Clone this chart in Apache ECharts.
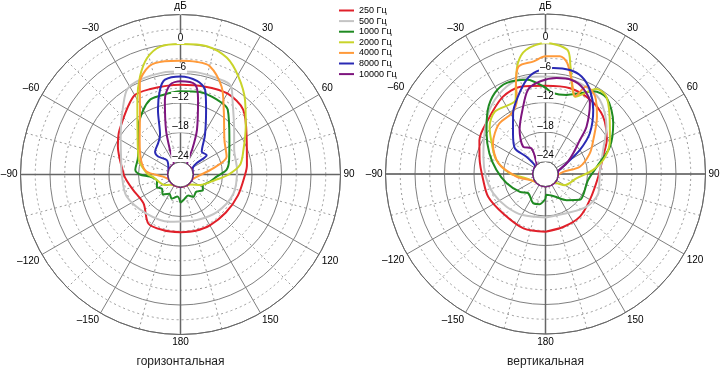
<!DOCTYPE html>
<html><head><meta charset="utf-8">
<script src="https://cdn.jsdelivr.net/npm/echarts@6/dist/echarts.min.js"></script>
<style>html,body{margin:0;padding:0;background:#fff}#c{width:720px;height:371px}</style>
</head><body><div id="c"></div>
<script>
// series names and colours
const NAMES = ['250 Гц','500 Гц','1000 Гц','2000 Гц','4000 Гц','8000 Гц','10000 Гц'];
const COLORS = ['#e0202a','#c4c4c4','#1f8a22','#c9d42a','#ff9a3a','#2a2ab4','#7e157e'];
const CHART_TITLES = ['горизонтальная','вертикальная'];
// radial ticks (dB) and angular ticks (deg)
const R_MIN = -24, R_MAX = 6, R_STEP = 6;
const A_STEP = 30;

// [angle deg, level dB] — horizontal plane
const H250 = [[-180,-14.8],[-163,-14.7],[-147,-14.6],[-128,-17.0],[-108,-16.4],[-96,-15.5],[-90,-15.0],[-66,-12.6],[-54,-11.2],[-31,-8.0],[-20,-8.1],[0,-8.3],[15,-8.0],[30,-7.5],[44,-8.2],[62,-11.3],[82,-12.9],[90,-13.4],[110,-14.1],[130,-14.5],[150,-14.6],[165,-14.7],[180,-14.8]];
const H500 = [[-180,-17.0],[-167,-16.7],[-139,-16.0],[-112,-14.7],[-90,-14.6],[-76,-14.1],[-60,-12.5],[-50,-10.75],[-40,-8.4],[-32,-6.1],[-23,-5.6],[-10,-5.5],[0,-5.6],[10,-5.5],[20,-5.6],[28,-5.6],[31,-6.3],[35,-8.1],[50,-12.3],[65,-14.5],[85,-15.0],[110,-15.1],[136,-15.9],[160,-16.7],[180,-17.0]];
const H1000 = [[-180,-20.8],[-172,-22.0],[-160,-21.3],[-150,-22.0],[-138,-21.1],[-128,-21.8],[-118,-21.1],[-105,-21.6],[-94,-20.3],[-90,-18.3],[-84,-17.3],[-70,-17.3],[-60,-16.6],[-41,-13.5],[-30,-11.4],[-22,-10.1],[-16,-10.0],[0,-9.6],[13,-9.3],[26,-9.6],[36,-10.2],[55,-14.4],[73,-16.2],[84,-17.1],[93,-19.1],[105,-20.5],[116,-21.5],[125,-21.0],[138,-21.8],[150,-21.3],[160,-22.0],[172,-21.4],[180,-20.8]];
const H2000 = [[-180,-24],[-150,-24],[-135,-23.6],[-124,-22.7],[-95,-20.9],[-88,-19.7],[-71,-17.6],[-46,-14.4],[-30,-9.0],[-22.5,-5.0],[-16,-1.9],[-9,-0.2],[0,0],[11.6,0.1],[21.7,-1.0],[30.6,-3.4],[40.9,-6.5],[53.8,-10.1],[68.7,-12.8],[81,-14.3],[90.6,-16.9],[99,-19.4],[118,-22.0],[135,-23.7],[150,-24],[180,-24]];
const H4000 = [[-180,-24],[-150,-24],[-115,-24],[-97,-23.0],[-85,-19.6],[-70,-18.0],[-50,-15.7],[-32,-11.0],[-24,-6.2],[-16,-3.6],[-8,-3.3],[0,-3.4],[8,-3.4],[15,-3.7],[25,-6.8],[34,-10.8],[52,-15.2],[69,-16.5],[79,-19.7],[98,-23.2],[115,-24],[150,-24],[180,-24]];
const H8000 = [[-180,-24],[-120,-24],[-75,-24],[-57,-23.6],[-43.6,-22.5],[-51.3,-20.7],[-48.2,-19.6],[-35.4,-18.7],[-27.4,-17.5],[-19.2,-12.6],[-13.6,-8.8],[-9.3,-7.0],[0,-6.6],[10,-7.2],[16.2,-8.6],[21.6,-12.4],[31.8,-17.1],[42.9,-20.2],[53.3,-19.9],[55,-22.5],[60,-23.6],[75,-24],[120,-24],[180,-24]];
const H10000 = [[-180,-24],[-150,-24],[-120,-24],[-90,-24],[-60,-24],[-40,-24],[-32,-24],[-27,-23.2],[-23.2,-21.1],[-18,-17.0],[-11.8,-11.0],[-6.7,-8.2],[0,-7.6],[9.2,-8.0],[13.2,-10.9],[20.3,-16.9],[25.1,-21.0],[27.4,-23.2],[32,-24],[60,-24],[90,-24],[120,-24],[150,-24],[180,-24]];

// [angle deg, level dB] — vertical plane
const V250 = [[-180,-14.8],[-158,-14.6],[-133,-14.75],[-112,-14.0],[-95,-13.8],[-78,-12.85],[-63,-11.45],[-47,-10.5],[-29,-8.6],[-16,-8.1],[0,-8.6],[16,-8.4],[31,-8.9],[45,-10.0],[61,-12.3],[73,-14.3],[93,-15.8],[120,-16.1],[141,-15.4],[161,-15.2],[180,-14.8]];
const V500 = [[-180,-17.7],[-151,-17.0],[-130,-16.2],[-110,-15.2],[-93,-14.4],[-74,-13.4],[-56,-11.6],[-41,-9.2],[-27,-7.4],[-15,-6.5],[-3,-6.7],[9,-6.6],[21,-6.8],[36,-7.8],[52,-10.8],[67,-13.8],[89,-15.5],[110,-15.1],[129,-15.9],[152,-17.5],[180,-17.7]];
const V1000 = [[-180,-21.5],[-169,-20.3],[-157,-20.1],[-138,-21.3],[-125,-20.2],[-103,-18.4],[-85,-16.5],[-70,-14.4],[-55,-11.9],[-42,-9.0],[-32,-7.1],[-23,-6.4],[-11,-7.0],[0,-9.0],[5,-10.0],[15,-9.9],[23,-8.7],[30,-7.1],[39,-6.7],[53,-9.3],[67,-12.3],[82,-16.0],[98,-17.8],[127,-17.8],[141,-19.7],[158,-21.6],[177,-22.3],[180,-21.5]];
const V2000 = [[-180,-24],[-130,-24],[-103,-22.6],[-89,-19.3],[-74,-16.1],[-60,-13.9],[-50,-11.7],[-39,-10.2],[-22,-10.3],[-18,-7.1],[-14,-3.3],[-9,-1.0],[0,0.1],[10,-0.9],[13,-4.0],[17,-8.0],[21,-9.7],[31,-6.4],[38,-6.5],[48,-9.0],[62,-11.7],[74,-13.9],[85,-16.8],[98,-20.2],[120,-22.0],[135,-24],[180,-24]];
const V4000 = [[-180,-24],[-130,-24],[-111,-23.1],[-95,-20.6],[-77,-16.7],[-60,-14.2],[-51,-13.3],[-42,-12.6],[-29,-12.4],[-21,-10.3],[-18,-7.1],[-14,-4.0],[-6,-3.5],[0,-2.6],[7,-2.4],[11,-3.5],[15.5,-6.7],[21,-9.6],[25,-6.9],[32.5,-7.8],[42,-10.9],[54.5,-14.6],[65,-16.6],[78,-19.4],[83,-22.9],[95,-24],[130,-24],[180,-24]];
const V8000 = [[-180,-24],[-120,-24],[-70,-24],[-55,-24],[-49,-23.2],[-47.7,-21.3],[-50,-18.4],[-38.4,-15.9],[-28,-12.5],[-19.5,-9.8],[-11.4,-7.0],[-5,-5.6],[4.2,-4.9],[13.2,-4.8],[20.3,-5.4],[27.8,-7.2],[36.7,-10.3],[47.4,-14.3],[55,-18.0],[63,-21.7],[70,-23.1],[80,-24],[120,-24],[180,-24]];
const V10000 = [[-180,-24],[-150,-24],[-120,-24],[-90,-24],[-60,-24],[-45,-24],[-40,-23.7],[-28.6,-20.6],[-39.3,-19.4],[-30.3,-16.1],[-19.8,-12.7],[-11.6,-9.0],[-3.5,-7.7],[6.6,-6.9],[15.5,-6.7],[23.7,-7.5],[32,-9.5],[40.9,-13.8],[45.3,-16.7],[53.2,-19.5],[63,-21.7],[72,-23.5],[80,-24],[90,-24],[120,-24],[150,-24],[180,-24]];

const H_SETS = [H250,H500,H1000,H2000,H4000,H8000,H10000];
const V_SETS = [V250,V500,V1000,V2000,V4000,V8000,V10000];

const FONT = '"Liberation Sans", Arial, sans-serif';
const CENTERS = [[180.5,174.5],[545.5,174]];
const RADIUS = [12.5,160];

const toPolar = arr => arr.map(([a, v]) => [v, a < 0 ? a + 360 : a]);
const dash = v => (v < 0 ? '\u2013' + (-v) : String(v));

const polar = [], angleAxis = [], radiusAxis = [], series = [];
// main grids 0,1 ; overlays 2,3
CENTERS.forEach(c => polar.push({center: c, radius: RADIUS}));
CENTERS.forEach(c => polar.push({center: c, radius: RADIUS}));

for (let p = 0; p < 2; p++) {
  angleAxis.push({
    polarIndex: p, type: 'value', min: 0, max: 360, interval: A_STEP, startAngle: 90, clockwise: true,
    axisLine: {show: true, lineStyle: {color: '#666', width: 1}},
    axisTick: {show: false},
    minorTick: {show: false, splitNumber: 2},
    axisLabel: {
      show: true, margin: 3, fontSize: 10, fontFamily: FONT, color: '#000',
      formatter: v => v === 0 ? 'дБ' : (v === 360 ? '' : (v === 180 ? '180' : (v > 180 ? '\u2013' + (360 - v) : String(v))))
    },
    splitLine: {show: true, lineStyle: {color: '#808080', width: 1}},
    minorSplitLine: {show: true, lineStyle: {color: '#9a9a9a', width: 1, type: [2, 3]}}
  });
  radiusAxis.push({
    polarIndex: p, type: 'value', min: R_MIN, max: R_MAX, interval: R_STEP,
    axisLine: {show: false}, axisTick: {show: false}, axisLabel: {show: false},
    minorTick: {show: false, splitNumber: 2},
    splitLine: {show: true, lineStyle: {color: '#808080', width: 1}},
    minorSplitLine: {show: true, lineStyle: {color: '#9a9a9a', width: 1, type: [2, 3]}}
  });
}
for (let p = 2; p < 4; p++) {
  angleAxis.push({
    polarIndex: p, type: 'value', min: 0, max: 360, interval: 90, startAngle: 90, clockwise: true, z: 1,
    axisLine: {show: false}, axisTick: {show: false}, axisLabel: {show: false},
    splitLine: {show: true, lineStyle: {color: '#666', width: 1.5}}
  });
  radiusAxis.push({
    polarIndex: p, type: 'value', min: R_MIN, max: R_MAX, interval: R_STEP, z: 10,
    axisLine: {show: false}, axisTick: {show: false}, splitLine: {show: false},
    axisLabel: {
      show: true, margin: 0, align: 'center', verticalAlign: 'bottom',
      fontSize: 10, fontFamily: FONT, color: '#000', backgroundColor: '#fff', padding: [0, 1, 1, 1],
      formatter: v => v >= R_MAX ? '' : dash(v)
    }
  });
}

[H_SETS, V_SETS].forEach((sets, p) => {
  sets.forEach((d, i) => {
    series.push({
      type: 'line', coordinateSystem: 'polar', polarIndex: p, name: NAMES[i],
      data: toPolar(d), symbol: 'none', smooth: 0.3, silent: true, z: 2 + i,
      lineStyle: {width: 2, color: COLORS[i]}, itemStyle: {color: COLORS[i]}
    });
  });
});

const chart = echarts.init(document.getElementById('c'), null, {renderer: 'canvas'});
chart.setOption({
  animation: false,
  backgroundColor: '#fff',
  polar, angleAxis, radiusAxis, series,
  legend: {
    orient: 'vertical', left: 334, top: 1, itemWidth: 15, itemHeight: 2, itemGap: 1.6, icon: 'rect',
    data: NAMES, textStyle: {fontSize: 9, fontFamily: FONT, color: '#000'}, selectedMode: false
  },
  graphic: CHART_TITLES.map((t, i) => ({
    type: 'text', x: CENTERS[i][0], y: 362,
    style: {text: t, font: '12px ' + FONT, fill: '#222', align: 'center', verticalAlign: 'middle', textAlign: 'center', textVerticalAlign: 'middle'}
  }))
});
</script></body></html>
